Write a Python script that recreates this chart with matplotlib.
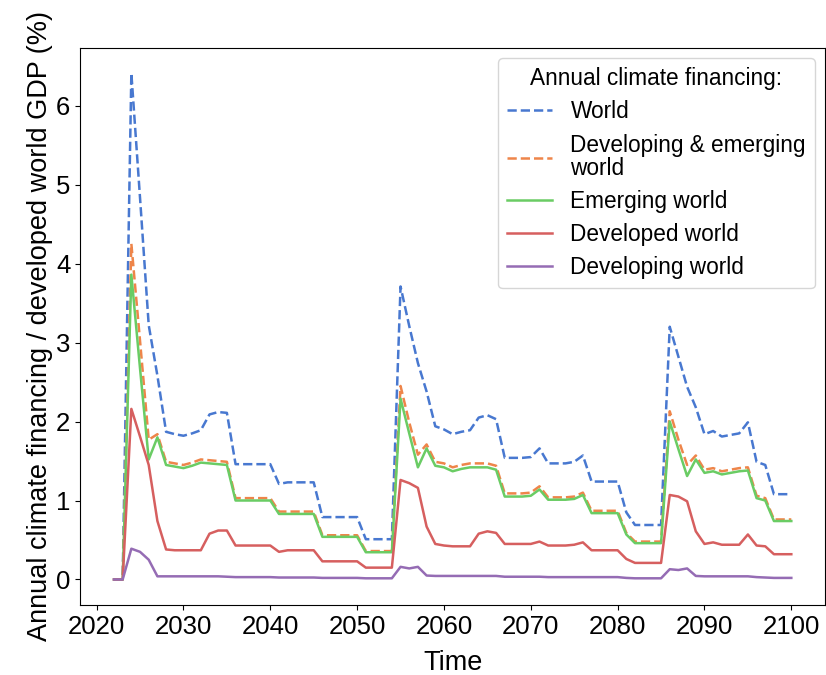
import numpy as np
import matplotlib
matplotlib.use("Agg")
import matplotlib.pyplot as plt

plt.rcParams['font.family'] = ['Liberation Sans', 'DejaVu Sans']

years = np.arange(2022, 2101)

# annual climate financing as % of developed world GDP
world = [0.00, 0.00, 6.41, 4.83, 3.22, 2.58, 1.87, 1.84, 1.82, 1.85,
         1.89, 2.09, 2.12, 2.11, 1.46, 1.46, 1.46, 1.46, 1.46, 1.21,
         1.23, 1.23, 1.23, 1.23, 0.79, 0.79, 0.79, 0.79, 0.79, 0.51,
         0.51, 0.51, 0.51, 3.71, 3.21, 2.74, 2.38, 1.94, 1.90, 1.84,
         1.87, 1.89, 2.05, 2.08, 2.03, 1.54, 1.54, 1.54, 1.55, 1.66,
         1.47, 1.47, 1.47, 1.49, 1.57, 1.24, 1.24, 1.24, 1.24, 0.85,
         0.69, 0.69, 0.69, 0.69, 3.20, 2.82, 2.44, 2.18, 1.84, 1.88,
         1.81, 1.83, 1.85, 1.99, 1.49, 1.45, 1.08, 1.08, 1.08]
dev_emerging = [0.00, 0.00, 4.25, 3.02, 1.77, 1.84, 1.49, 1.47, 1.45, 1.48,
                1.52, 1.51, 1.50, 1.49, 1.03, 1.03, 1.03, 1.03, 1.03, 0.86,
                0.86, 0.86, 0.86, 0.86, 0.56, 0.56, 0.56, 0.56, 0.56, 0.36,
                0.36, 0.36, 0.36, 2.45, 1.99, 1.58, 1.71, 1.49, 1.47, 1.42,
                1.45, 1.47, 1.47, 1.47, 1.44, 1.09, 1.09, 1.09, 1.10, 1.18,
                1.04, 1.04, 1.04, 1.05, 1.10, 0.87, 0.87, 0.87, 0.87, 0.59,
                0.48, 0.48, 0.48, 0.48, 2.13, 1.77, 1.45, 1.57, 1.39, 1.41,
                1.37, 1.39, 1.41, 1.42, 1.06, 1.03, 0.76, 0.76, 0.76]
emerging = [0.00, 0.00, 3.86, 2.67, 1.52, 1.80, 1.45, 1.43, 1.41, 1.44,
            1.48, 1.47, 1.46, 1.45, 1.00, 1.00, 1.00, 1.00, 1.00, 0.83,
            0.83, 0.83, 0.83, 0.83, 0.54, 0.54, 0.54, 0.54, 0.54, 0.345,
            0.345, 0.345, 0.345, 2.29, 1.85, 1.42, 1.66, 1.44, 1.42, 1.37,
            1.40, 1.42, 1.42, 1.42, 1.39, 1.05, 1.05, 1.05, 1.06, 1.14,
            1.01, 1.01, 1.01, 1.02, 1.07, 0.84, 0.84, 0.84, 0.84, 0.57,
            0.46, 0.46, 0.46, 0.46, 2.00, 1.65, 1.31, 1.52, 1.35, 1.37,
            1.33, 1.35, 1.37, 1.38, 1.03, 1.00, 0.74, 0.74, 0.74]
developed = [0.00, 0.00, 2.16, 1.81, 1.45, 0.74, 0.38, 0.37, 0.37, 0.37,
             0.37, 0.58, 0.62, 0.62, 0.43, 0.43, 0.43, 0.43, 0.43, 0.35,
             0.37, 0.37, 0.37, 0.37, 0.23, 0.23, 0.23, 0.23, 0.23, 0.15,
             0.15, 0.15, 0.15, 1.26, 1.22, 1.16, 0.67, 0.45, 0.43, 0.42,
             0.42, 0.42, 0.58, 0.61, 0.59, 0.45, 0.45, 0.45, 0.45, 0.48,
             0.43, 0.43, 0.43, 0.44, 0.47, 0.37, 0.37, 0.37, 0.37, 0.26,
             0.21, 0.21, 0.21, 0.21, 1.07, 1.05, 0.99, 0.61, 0.45, 0.47,
             0.44, 0.44, 0.44, 0.57, 0.43, 0.42, 0.32, 0.32, 0.32]
developing = [0.00, 0.00, 0.39, 0.35, 0.25, 0.04, 0.04, 0.04, 0.04, 0.04,
              0.04, 0.04, 0.04, 0.035, 0.03, 0.03, 0.03, 0.03, 0.03, 0.025,
              0.025, 0.025, 0.025, 0.025, 0.02, 0.02, 0.02, 0.02, 0.02, 0.015,
              0.015, 0.015, 0.015, 0.16, 0.14, 0.16, 0.05, 0.045, 0.045, 0.045,
              0.045, 0.045, 0.045, 0.045, 0.045, 0.035, 0.035, 0.035, 0.035, 0.035,
              0.03, 0.03, 0.03, 0.03, 0.03, 0.03, 0.03, 0.03, 0.03, 0.02,
              0.015, 0.015, 0.015, 0.015, 0.13, 0.12, 0.14, 0.045, 0.04, 0.04,
              0.04, 0.04, 0.04, 0.04, 0.03, 0.025, 0.02, 0.02, 0.02]

fig = plt.figure(figsize=(8.26, 6.75), dpi=100)
ax = fig.add_axes([0.097, 0.104, 0.902, 0.825])

lw = 1.8
ax.plot(years, world, "--", color="#4878d0", lw=lw, label="World")
ax.plot(years, dev_emerging, "--", color="#ee854a", lw=lw,
        label="Developing & emerging\nworld")
ax.plot(years, emerging, color="#6acc64", lw=lw, label="Emerging world")
ax.plot(years, developed, color="#d65f5f", lw=lw, label="Developed world")
ax.plot(years, developing, color="#956cb4", lw=lw, label="Developing world")

ax.set_xlabel("Time", fontsize=19.5, labelpad=8)
ax.set_ylabel("Annual climate financing / developed world GDP (%)",
              fontsize=19.5, labelpad=2)
ax.tick_params(labelsize=18.5)
ax.set_xticks(np.arange(2020, 2101, 10))

leg = ax.legend(title="Annual climate financing:", loc="upper right",
                fontsize=16.3, title_fontsize=16.3, borderaxespad=0.45,
                labelspacing=0.45)
for t in leg.get_texts():
    t.set_linespacing(1.0)

fig.savefig("out.png", dpi=100)
